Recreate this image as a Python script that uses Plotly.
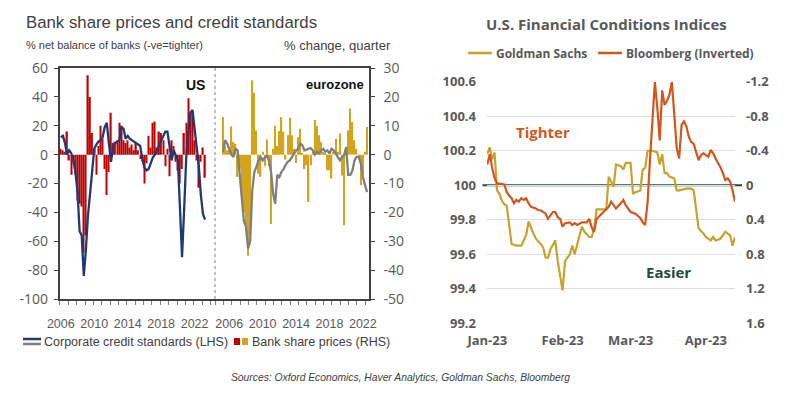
import plotly.graph_objects as go
import pandas as pd

# ---------------- Left chart data (quarterly) ----------------
us_quarters = pd.period_range("2006Q1", periods=70, freq="Q")
ez_quarters = pd.period_range("2005Q2", periods=70, freq="Q")

us_credit = [12, 13, 8, 0, 3, 1, -4, -12, -26, -53,
             -56, -84, -66, -42, -27, -10, 4, 7, 9, 10,
             12, 19, 22, 8, -5, 5, 8, 9, 10, 19,
             18, 11, 13, 11, 10, 9, 8, 7, 6, -3,
             -9, -11, -10, -6, -2, 0, 3, 6, 9, 13,
             16, 16, 4, -4, 3, 0, -4, -37, -71, -38,
             -2, 15, 29, 31, 18, 5, -8, -28, -41, -45]
us_bank = [2, 1.5, 1, 8, -2, -7, -3, -7, -16, -17,
           -18, -34, -28, 27.5, 20, 7.5, 2, -7, 3, 10,
           5.5, -5, -14, -6, 14.5, 4, 4.5, 5, 11, 10,
           5, 4, 5, 2.5, 3.5, 1.5, 4, 1.5, -1.5, -2.5,
           -10, -3, 6.5, 2.5, 11, 11.5, 2.5, 8, 7.5, 5,
           -4, 2, -7.5, 5, 3, -2.5, -5.5, -10, -5, 7.5,
           11, 19.5, 14, 15, 5, -2, -11.5, -2.5, 2.5, -8]
ez_credit = [2, 10, 7.6, 3.5, 0, -1.6, 4, 3, -11, -30,
             -46, -50, -65, -60, -25, -12, -8.5, -4, -1.6, -4,
             -2, -1, -4, -12, -27, -34, -14, -15.5, -12, -10,
             -7, -5, -4, -1.6, 0.7, 3, 4, 7.6, 6.5, 3,
             3.5, 4, 4.6, 3, 0, 2, 0.7, 3, 4, 2,
             3, 0.7, 4, 3, 0.7, -1.6, -4, -1.6, -0.5, 5,
             -14, -14, -11, -4, -1.6, -1.6, -6, -15.5, -21, -26]
ez_bank = [13, 3, 1.5, 2, 9.8, 4.4, 3.8, -7.7, -4.9, -17,
           -20, -25, -35, -28, 25.8, 21.4, 8.4, -6.6, -7.7, 1,
           -4, 5.2, -4, -24, 2, 10, 3, 8.2, 13, 8,
           -1.7, 6.7, 12.8, 6.7, 2, -2.9, 6, 9, 0.5, -5,
           -3.7, -16.4, -3.7, 1, 12, 10, 6.7, 4.4, 1, 0.5,
           -5.4, -5.4, -8.3, 1, 5.5, 1, 7.3, -7.2, -24.5, 2.7,
           8.4, 16, 11.3, 5, 2, -1, -10.6, -6.6, 1, 9.6]

year_ticks = [2006, 2010, 2014, 2018, 2022]
lhs_ticks = [60, 40, 20, 0, -20, -40, -60, -80, -100]
rhs_ticks = [30, 20, 10, 0, -10, -20, -30, -40, -50]

# ---------------- Right chart data (daily, 2023) ----------------
gs_dates = ["01-01", "01-02", "01-03", "01-04", "01-05", "01-06", "01-07", "01-08", "01-09", "01-11",
            "01-13", "01-15", "01-17", "01-18", "01-20", "01-21", "01-23", "01-24", "01-25", "01-26",
            "01-27", "01-29", "01-30", "01-31", "02-01", "02-02", "02-04", "02-05", "02-06", "02-08",
            "02-09", "02-10", "02-12", "02-13", "02-14", "02-15", "02-18", "02-19", "02-20", "02-21",
            "02-22", "02-23", "02-25", "02-26", "02-27", "03-01", "03-02", "03-03", "03-05", "03-06",
            "03-07", "03-08", "03-10", "03-12", "03-13", "03-14", "03-15", "03-16", "03-17", "03-19",
            "03-20", "03-21", "03-24", "03-26", "03-27", "03-28", "03-29", "03-31", "04-01", "04-03",
            "04-04", "04-05", "04-07", "04-09", "04-10", "04-11", "04-12", "04-13"]
gs_values = [100.18, 100.22, 100.15, 100.19, 99.97, 99.95, 99.91, 99.89, 99.88, 99.66,
             99.65, 99.65, 99.71, 99.79, 99.72, 99.69, 99.66, 99.64, 99.58, 99.58,
             99.63, 99.68, 99.56, 99.46, 99.39, 99.56, 99.60, 99.65, 99.60, 99.71,
             99.76, 99.73, 99.70, 99.70, 99.75, 99.86, 99.86, 99.86, 100.05, 100.02,
             99.99, 100.12, 100.11, 100.09, 100.13, 100.13, 99.95, 99.96, 99.97, 100.09,
             100.10, 100.20, 100.20, 100.19, 100.12, 100.18, 100.07, 100.07, 100.05, 100.04,
             99.97, 99.97, 99.98, 99.98, 99.97, 99.86, 99.75, 99.72, 99.70, 99.68,
             99.70, 99.68, 99.69, 99.73, 99.72, 99.71, 99.65, 99.70]

bbg_dates = ["01-01", "01-02", "01-03", "01-04", "01-05", "01-06", "01-08", "01-09", "01-10", "01-11",
             "01-12", "01-13", "01-14", "01-15", "01-16", "01-17", "01-18", "01-19", "01-21", "01-22",
             "01-23", "01-25", "01-26", "01-27", "01-28", "01-29", "01-30", "01-31", "02-01", "02-02",
             "02-04", "02-05", "02-06", "02-07", "02-08", "02-09", "02-11", "02-12", "02-13", "02-14",
             "02-15", "02-16", "02-17", "02-18", "02-19", "02-20", "02-21", "02-22", "02-23", "02-25",
             "02-26", "02-27", "03-01", "03-02", "03-03", "03-05", "03-06", "03-07", "03-08", "03-09",
             "03-10", "03-11", "03-12", "03-13", "03-14", "03-15", "03-16", "03-17", "03-18", "03-20",
             "03-21", "03-22", "03-23", "03-24", "03-25", "03-26", "03-27", "03-28", "03-29", "03-30",
             "03-31", "04-01", "04-02", "04-03", "04-04", "04-05", "04-07", "04-08", "04-09", "04-10",
             "04-11", "04-12", "04-13"]
bbg_values = [-0.24, -0.36, -0.20, -0.08, -0.02, -0.02, -0.01, 0.08, 0.12, 0.15,
              0.21, 0.17, 0.19, 0.15, 0.17, 0.15, 0.21, 0.25, 0.27, 0.29,
              0.29, 0.33, 0.39, 0.35, 0.31, 0.31, 0.37, 0.39, 0.48, 0.44,
              0.43, 0.46, 0.44, 0.46, 0.44, 0.43, 0.43, 0.39, 0.49, 0.54,
              0.39, 0.36, 0.33, 0.30, 0.28, 0.25, 0.19, 0.23, 0.27, 0.21,
              0.17, 0.23, 0.31, 0.32, 0.33, 0.38, 0.43, 0.46, 0.20, -0.30,
              -0.75, -1.20, -0.90, -0.52, -1.10, -0.93, -0.98, -1.05, -1.20, -0.43,
              -0.31, -0.70, -0.74, -0.68, -0.56, -0.50, -0.48, -0.39, -0.29, -0.35,
              -0.37, -0.35, -0.33, -0.41, -0.37, -0.31, -0.21, -0.14, -0.06, -0.08,
              -0.04, 0.06, 0.19]

gs_ticks = [99.2, 99.4, 99.6, 99.8, 100, 100.2, 100.4, 100.6]
gs_ticktext = ["99.2", "99.4", "99.6", "99.8", "100", "100.2", "100.4", "100.6"]
bbg_ticks = [-1.2, -0.8, -0.4, 0, 0.4, 0.8, 1.2, 1.6]
neutral_level = 100
series_names = ["Goldman Sachs", "Bloomberg (Inverted)"]

# ---------------- styling ----------------
W, H = 800, 396
SANS = "Liberation Sans, Arial, sans-serif"
OPEN = "Open Sans, Liberation Sans, sans-serif"
RED = "#C00000"
GOLD = "#D4A41C"
NAVY = "#1F3A73"
GREY = "#7F7F7F"
FRAME = "#404040"
GS_COL = "#C9A22E"
BBG_COL = "#D2571E"
GREEN = "#1D4D3B"
TXT = "#595959"


def px(x):
    return x / W


def py(y):
    return 1 - y / H


def qpos(periods):
    return [p.year + (p.quarter - 1) / 4 for p in periods]


us_x = qpos(us_quarters)
ez_x = qpos(ez_quarters)
gs_x = ["2023-" + d for d in gs_dates]
bbg_x = ["2023-" + d for d in bbg_dates]

fig = go.Figure()
fig.add_trace(go.Bar(x=us_x, y=us_bank, xaxis="x", yaxis="y", marker=dict(color=RED, line_width=0),
                     showlegend=False, hoverinfo="skip"))
fig.add_trace(go.Bar(x=ez_x, y=ez_bank, xaxis="x2", yaxis="y", marker=dict(color=GOLD, line_width=0),
                     showlegend=False, hoverinfo="skip"))
fig.add_trace(go.Scatter(x=us_x, y=us_credit, xaxis="x", yaxis="y2", mode="lines",
                         line=dict(color=NAVY, width=2.3), showlegend=False))
fig.add_trace(go.Scatter(x=ez_x, y=ez_credit, xaxis="x2", yaxis="y2", mode="lines",
                         line=dict(color=GREY, width=2.3), showlegend=False))
fig.add_trace(go.Scatter(x=gs_x, y=gs_values, xaxis="x3", yaxis="y3", mode="lines",
                         name=series_names[0], line=dict(color=GS_COL, width=2.2), showlegend=False))
fig.add_trace(go.Scatter(x=bbg_x, y=bbg_values, xaxis="x3", yaxis="y4", mode="lines",
                         name=series_names[1], line=dict(color=BBG_COL, width=2.2), showlegend=False))

left_dom_y = [py(299), py(68)]
xfont = dict(family=SANS, size=12.5, color=TXT)
yfont = dict(family=OPEN, size=14, color=TXT)
bold13 = dict(family=OPEN, size=13, color=TXT, weight="bold")

common_x = dict(tickvals=year_ticks, ticktext=[str(v) for v in year_ticks], ticks="", tickangle=0,
                showline=True, linecolor=FRAME, linewidth=1.5, mirror=True, automargin=False,
                showgrid=False, zeroline=False, tickfont=xfont, ticklabelstandoff=12)

fig.update_layout(
    width=W, height=H, margin=dict(l=0, r=0, t=0, b=0, autoexpand=False),
    paper_bgcolor="white", plot_bgcolor="rgba(0,0,0,0)",
    bargap=0.35, showlegend=False,
    xaxis=dict(domain=[px(59.5), px(214.5)], range=[2005.845, 2024.38], anchor="y2",
               minor=dict(ticks="outside", ticklen=4, tick0=2005.9, dtick=1, tickcolor="#7f7f7f",
                          showgrid=False),
               **common_x),
    xaxis2=dict(domain=[px(215), px(369)], range=[2004.29, 2022.735], anchor="y",
                minor=dict(ticks="outside", ticklen=4, tick0=2004.29, dtick=1, tickcolor="#7f7f7f",
                           showgrid=False),
                **common_x),
    yaxis=dict(domain=left_dom_y, range=[-50, 30], side="right", anchor="x2", automargin=False,
               tickvals=rhs_ticks, ticktext=[str(v) for v in rhs_ticks],
               ticks="outside", ticklen=4, tickcolor=FRAME, showline=True, linecolor=FRAME, linewidth=1.5,
               showgrid=False, zeroline=False, tickfont=yfont, ticklabelstandoff=6),
    yaxis2=dict(overlaying="y", range=[-100, 60], side="left", anchor="x", automargin=False,
                tickvals=lhs_ticks, ticktext=[str(v) for v in lhs_ticks],
                ticks="outside", ticklen=4, tickcolor=FRAME, showline=True, linecolor=FRAME, linewidth=1.5,
                showgrid=False, zeroline=False, tickfont=yfont, ticklabelstandoff=3),
    xaxis3=dict(domain=[px(487), px(735)], anchor="y3", type="date", automargin=False,
                range=["2022-12-31 21:00", "2023-04-13"], tickformat="%b-%y", dtick="M1",
                tick0="2023-01-01", ticks="", showgrid=False, showline=False, zeroline=False,
                tickfont=bold13, ticklabelstandoff=8),
    yaxis3=dict(domain=[py(323.3), py(81.7)], anchor="x3", range=[99.2, 100.6], automargin=False,
                tickvals=gs_ticks, ticktext=gs_ticktext, ticks="", showgrid=True, gridcolor="#DDDDDD",
                gridwidth=1, zeroline=False, showline=False, tickfont=bold13, ticklabelstandoff=10),
    yaxis4=dict(overlaying="y3", anchor="x3", side="right", range=[1.6, -1.2], automargin=False,
                tickvals=bbg_ticks, ticktext=[f"{v:g}" for v in bbg_ticks], ticks="",
                showgrid=False, zeroline=False, showline=False, tickfont=bold13, ticklabelstandoff=10),
)

shapes = [
    # dotted divider between panels
    dict(type="line", xref="paper", yref="paper", x0=px(215), x1=px(215), y0=py(299), y1=py(68),
         line=dict(color="#808080", width=1, dash="dot")),
    # reference line at neutral level
    dict(type="line", xref="paper", yref="y3", x0=px(482.5), x1=px(742), y0=neutral_level, y1=neutral_level,
         line=dict(color=GREEN, width=2), layer="between"),
    # left legend icons
    dict(type="line", xref="paper", yref="paper", x0=px(23), x1=px(41), y0=py(339), y1=py(339),
         line=dict(color=NAVY, width=2.5)),
    dict(type="line", xref="paper", yref="paper", x0=px(23), x1=px(41), y0=py(344), y1=py(344),
         line=dict(color=GREY, width=2.5)),
    dict(type="rect", xref="paper", yref="paper", x0=px(234), x1=px(240), y0=py(345), y1=py(338),
         fillcolor=RED, line_width=0),
    dict(type="rect", xref="paper", yref="paper", x0=px(242), x1=px(248), y0=py(345), y1=py(338),
         fillcolor=GOLD, line_width=0),
    # right legend icons
    dict(type="line", xref="paper", yref="paper", x0=px(468), x1=px(492), y0=py(53), y1=py(53),
         line=dict(color=GS_COL, width=2.5)),
    dict(type="line", xref="paper", yref="paper", x0=px(598), x1=px(622), y0=py(53), y1=py(53),
         line=dict(color=BBG_COL, width=2.5)),
]

legend_font = dict(family=OPEN, size=12, color=TXT, weight="bold")
annotations = [
    dict(text="Bank share prices and credit standards", x=px(24), y=py(22), xanchor="left",
         yanchor="middle", font=dict(family=SANS, size=16.8, color="#404040")),
    dict(text="% net balance of banks (-ve=tighter)", x=px(24), y=py(45), xanchor="left",
         yanchor="middle", font=dict(family=SANS, size=11, color="#404040")),
    dict(text="% change, quarter", x=px(282), y=py(45), xanchor="left",
         yanchor="middle", font=dict(family=SANS, size=13, color="#404040")),
    dict(text="<b>US</b>", x=px(207), y=py(85), xanchor="right", yanchor="middle",
         font=dict(family=SANS, size=14, color="#111111")),
    dict(text="<b>eurozone</b>", x=px(366), y=py(84), xanchor="right", yanchor="middle",
         font=dict(family=SANS, size=13, color="#111111")),
    dict(text="Corporate credit standards (LHS)", x=px(42), y=py(342), xanchor="left", yanchor="middle",
         font=dict(family=SANS, size=12.5, color="#404040")),
    dict(text="Bank share prices (RHS)", x=px(250), y=py(342), xanchor="left", yanchor="middle",
         font=dict(family=SANS, size=12.5, color="#404040")),
    dict(text=series_names[0], x=px(494), y=py(53), xanchor="left", yanchor="middle", font=legend_font),
    dict(text=series_names[1], x=px(624), y=py(53), xanchor="left", yanchor="middle", font=legend_font),
    dict(text="<b>U.S. Financial Conditions Indices</b>", x=px(606), y=py(24), xanchor="center",
         yanchor="middle", font=dict(family=OPEN, size=15, color=TXT)),
    dict(text="<b>Tighter</b>", x=px(543), y=py(132), xanchor="center", yanchor="middle",
         font=dict(family=OPEN, size=15, color=BBG_COL)),
    dict(text="<b>Easier</b>", x=px(668), y=py(272), xanchor="center", yanchor="middle",
         font=dict(family=OPEN, size=15, color=GREEN)),
    dict(text="<i>Sources: Oxford Economics, Haver Analytics, Goldman Sachs, Bloomberg</i>",
         x=px(400), y=py(377), xanchor="center", yanchor="middle",
         font=dict(family=SANS, size=10.3, color="#404040")),
]
for a in annotations:
    a.update(xref="paper", yref="paper", showarrow=False)

fig.update_layout(shapes=shapes, annotations=annotations)
fig.write_html("out.html", config={"displayModeBar": False},
               post_script="document.body.style.margin='0';")
